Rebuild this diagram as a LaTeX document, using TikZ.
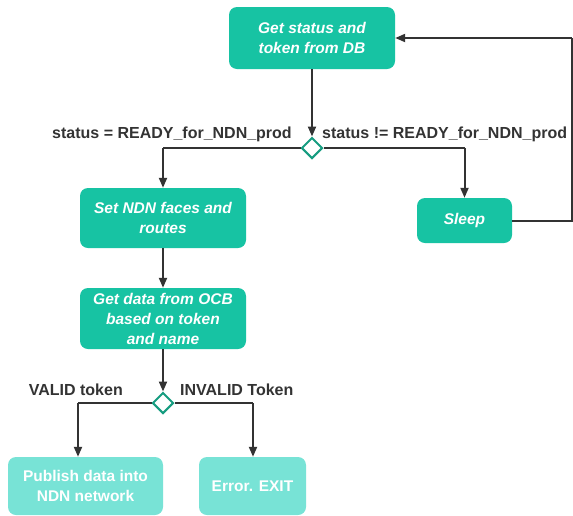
\documentclass[tikz,border=0pt]{standalone}
\usepackage{fontspec}
\setmainfont{Liberation Sans}
\usetikzlibrary{arrows.meta,shapes.geometric}
\definecolor{dteal}{HTML}{17C3A3}
\definecolor{lteal}{HTML}{78E3D6}
\definecolor{dline}{HTML}{333333}
\definecolor{dedge}{HTML}{169C80}
\tikzset{
  x=1pt,y=-1pt,
  box/.style={draw=none,rounded corners=8pt,fill=dteal,text=white,font=\fontsize{15.5}{20}\selectfont\bfseries\itshape,align=center,inner sep=0pt},
  lbox/.style={box,fill=lteal,font=\fontsize{15.5}{20}\selectfont\bfseries},
  dia/.style={diamond,draw=dedge,line width=2pt,fill=white,minimum width=21pt,minimum height=21pt,inner sep=0pt},
  conn/.style={draw=dline,line width=2pt,-{Triangle[length=10pt,width=8pt]}},
  line/.style={draw=dline,line width=2pt},
  lab/.style={text=dline,font=\fontsize{16}{18}\selectfont\bfseries,inner sep=0pt}
}
\begin{document}
\begin{tikzpicture}
\useasboundingbox (0,0) rectangle (573,515);
\node[box,minimum width=166pt,minimum height=62pt] (b1) at (312,38) {Get status and\\token from DB};
\node[dia] (d1) at (312,148) {};
\node[box,minimum width=166pt,minimum height=60pt] (b2) at (163,218) {Set NDN faces and\\routes};
\node[box,minimum width=95pt,minimum height=45pt] (sl) at (464.5,220.5) {Sleep};
\node[box,minimum width=166pt,minimum height=61pt] (b3) at (163,318.5) {Get data from OCB\\based on token\\and name};
\node[dia] (d2) at (163,403) {};
\node[lbox,minimum width=155pt,minimum height=58pt] (b4) at (85.5,486) {Publish data into\\NDN network};
\node[lbox,minimum width=107pt,minimum height=58pt] (b5) at (252.5,486) {Error. EXIT};
\coordinate (l1) at (163,148);
\coordinate (r1) at (464.5,148);
\coordinate (fr) at (572,220.5);
\coordinate (ft) at (572,38);
\coordinate (l2) at (78,403);
\coordinate (r2) at (253,403);
\draw[conn] (b1.south) -- (d1.north);
\draw[line] (d1.west) -- (l1);
\draw[conn] (l1) -- (b2.north);
\draw[line] (d1.east) -- (r1);
\draw[conn] (r1) -- (sl.north);
\draw[line] (sl.east) -- (fr) -- (ft);
\draw[conn] (ft) -- (b1.east);
\draw[conn] (b2.south) -- (b3.north);
\draw[conn] (b3.south) -- (d2.north);
\draw[line] (d2.west) -- (l2);
\draw[conn] (l2) -- (b4.north -| l2);
\draw[line] (d2.east) -- (r2);
\draw[conn] (r2) -- (b5.north -| r2);
\node[lab,anchor=base east] (t1) at (292,138) {status = READY\_for\_NDN\_prod};
\node[lab,anchor=base west] (t2) at (322,138) {status != READY\_for\_NDN\_prod};
\node[lab,anchor=base east] (t3) at (123,395) {VALID token};
\node[lab,anchor=base west] (t4) at (180,395) {INVALID Token};
\end{tikzpicture}
\end{document}
